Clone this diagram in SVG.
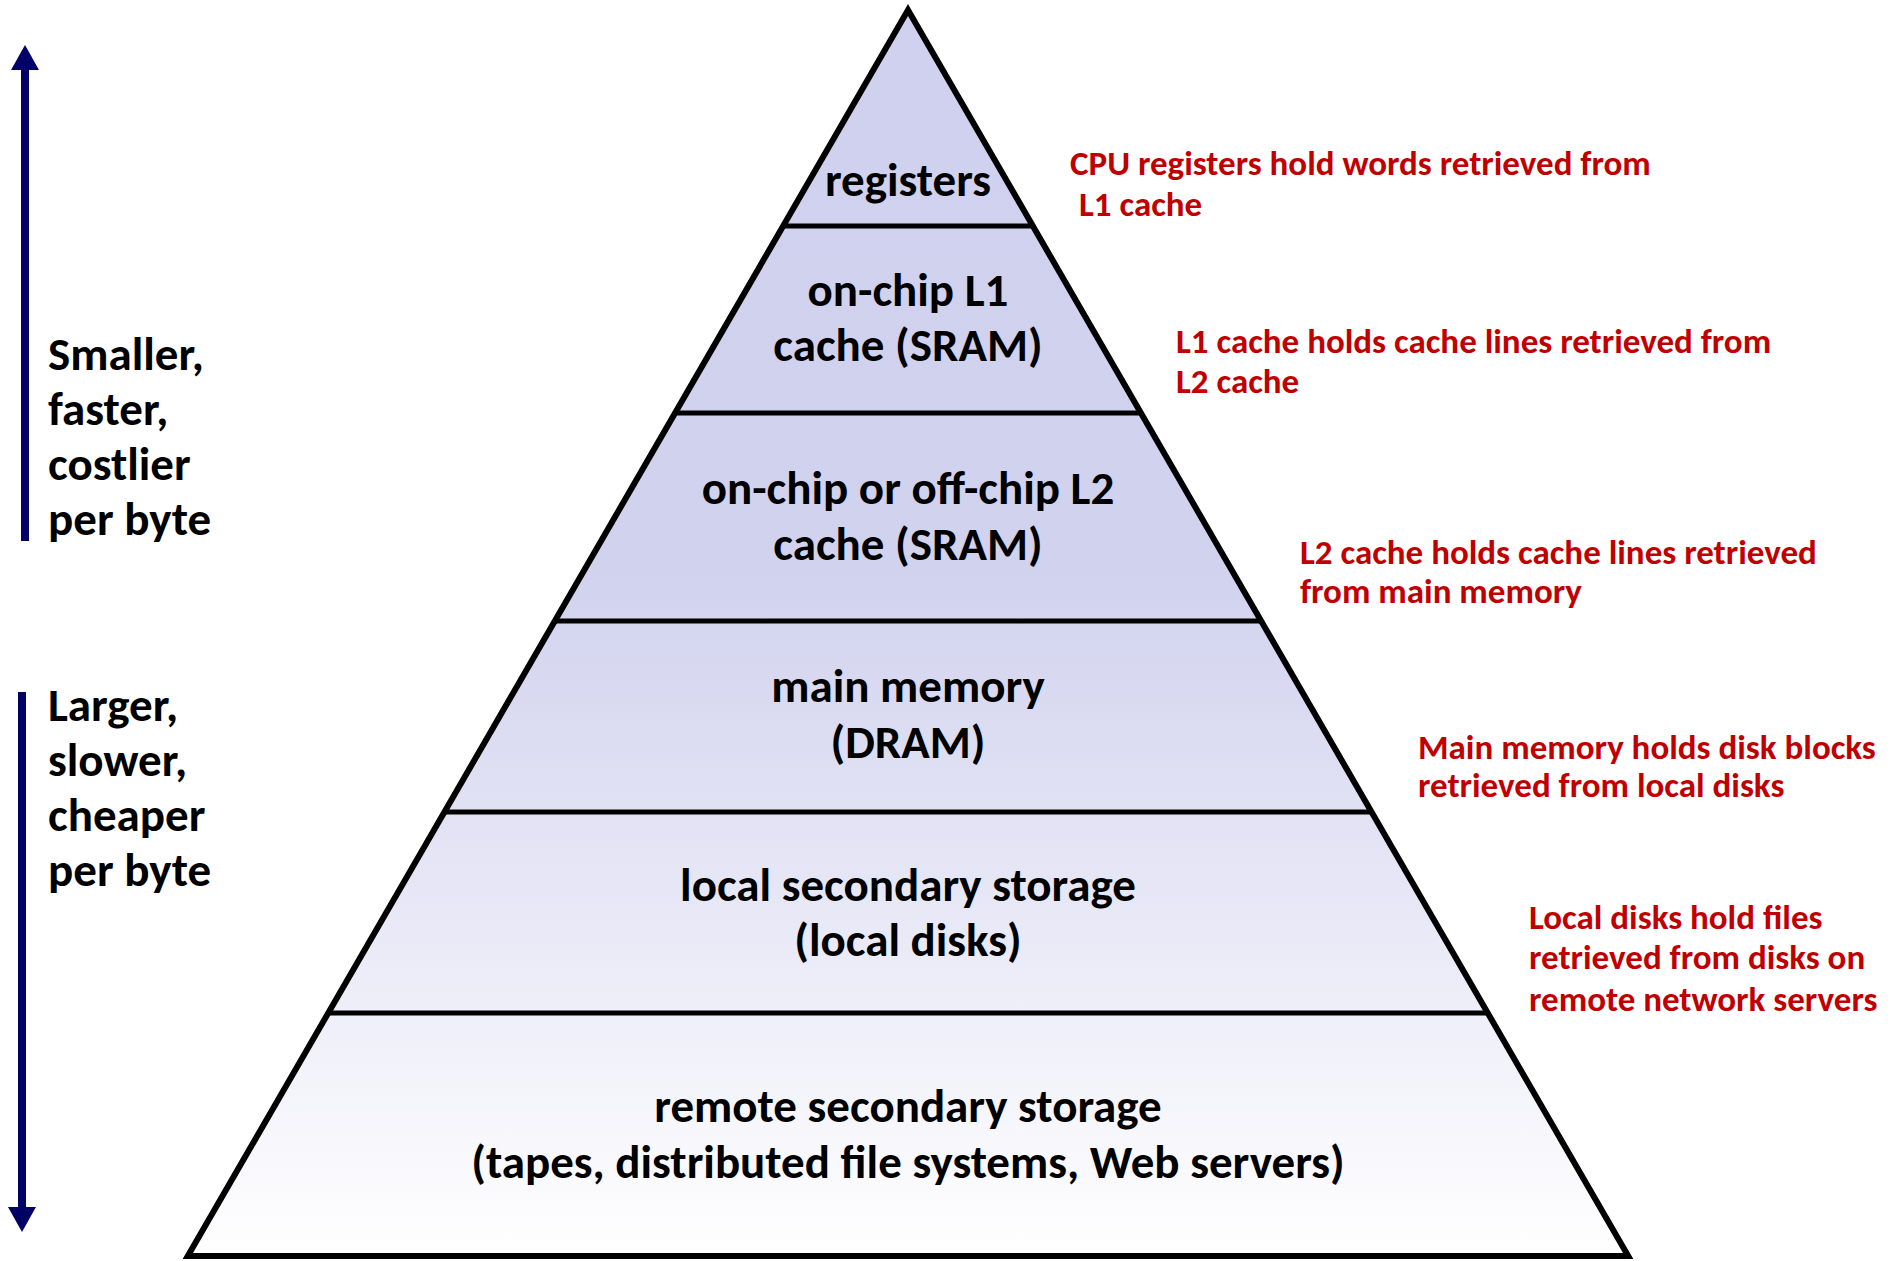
<svg xmlns="http://www.w3.org/2000/svg" width="1894" height="1261" viewBox="0 0 1894 1261">
<style>
.lvl{font-family:Carlito,Lato,"Liberation Sans",sans-serif;font-weight:bold;font-size:47px;fill:#000;text-anchor:middle}
.side{font-family:Carlito,Lato,"Liberation Sans",sans-serif;font-weight:bold;font-size:47px;fill:#000}
.note{font-family:Carlito,Lato,"Liberation Sans",sans-serif;font-weight:bold;font-size:35px;fill:#C00000}
.band{fill:url(#pg);stroke:none}
.sep{stroke:#000;stroke-width:5}
.arrow{stroke:#000066;stroke-width:8}
</style>
<defs>
<linearGradient id="pg" gradientUnits="userSpaceOnUse" x1="0" y1="10" x2="0" y2="1259">
<stop offset="0" stop-color="#D0D1EE"/>
<stop offset="0.45" stop-color="#D1D2EE"/>
<stop offset="1" stop-color="#FFFFFF"/>
</linearGradient>
</defs>
<rect width="1894" height="1261" fill="#fff"/>
<g id="registers">
<polygon class="band" points="908,10 1032.8,226 783.2,226"/>
<text class="lvl" x="908" y="196">registers</text>
</g>
<g id="l1">
<polygon class="band" points="783.2,226 1032.8,226 1140.9,413 675.1,413"/>
<text class="lvl" x="908" y="306">on-chip L1</text>
<text class="lvl" x="908" y="361">cache (SRAM)</text>
</g>
<g id="l2">
<polygon class="band" points="675.1,413 1140.9,413 1261.2,621 554.8,621"/>
<text class="lvl" x="908" y="504">on-chip or off-chip L2</text>
<text class="lvl" x="908" y="560">cache (SRAM)</text>
</g>
<g id="main-memory">
<polygon class="band" points="554.8,621 1261.2,621 1371.6,812 444.4,812"/>
<text class="lvl" x="908" y="702">main memory</text>
<text class="lvl" x="908" y="758">(DRAM)</text>
</g>
<g id="local-storage">
<polygon class="band" points="444.4,812 1371.6,812 1487.7,1013 328.3,1013"/>
<text class="lvl" x="908" y="901">local secondary storage</text>
<text class="lvl" x="908" y="956">(local disks)</text>
</g>
<g id="remote-storage">
<polygon class="band" points="328.3,1013 1487.7,1013 1628.2,1256 187.8,1256"/>
<text class="lvl" x="908" y="1122">remote secondary storage</text>
<text class="lvl" x="908" y="1178">(tapes, distributed file systems, Web servers)</text>
</g>
<g id="pyramid-lines">
<line class="sep" x1="783.2" y1="226" x2="1032.8" y2="226"/>
<line class="sep" x1="675.1" y1="413" x2="1140.9" y2="413"/>
<line class="sep" x1="554.8" y1="621" x2="1261.2" y2="621"/>
<line class="sep" x1="444.4" y1="812" x2="1371.6" y2="812"/>
<line class="sep" x1="328.3" y1="1013" x2="1487.7" y2="1013"/>
<polygon points="908,10 1628.2,1256 187.8,1256" fill="none" stroke="#000" stroke-width="6" stroke-linejoin="miter"/>
</g>
<g id="connectors">
<line class="arrow" x1="25" y1="541" x2="25" y2="66"/>
<polygon points="25,45 11,70 39,70" fill="#000066"/>
<line class="arrow" x1="22" y1="692" x2="22" y2="1210"/>
<polygon points="22,1232 8,1207 36,1207" fill="#000066"/>
</g>
<g id="label-smaller">
<text class="side" x="48" y="370">Smaller,</text>
<text class="side" x="48" y="425">faster,</text>
<text class="side" x="48" y="480">costlier</text>
<text class="side" x="48" y="535">per byte</text>
</g>
<g id="label-larger">
<text class="side" x="48" y="721">Larger,</text>
<text class="side" x="48" y="776">slower,</text>
<text class="side" x="48" y="831">cheaper</text>
<text class="side" x="48" y="886">per byte</text>
</g>
<g id="note-registers">
<text class="note" x="1070" y="175">CPU registers hold words retrieved from</text>
<text class="note" x="1079" y="216">L1 cache</text>
</g>
<g id="note-l1">
<text class="note" x="1176" y="353">L1 cache holds cache lines retrieved from</text>
<text class="note" x="1176" y="393">L2 cache</text>
</g>
<g id="note-l2">
<text class="note" x="1300" y="564">L2 cache holds cache lines retrieved</text>
<text class="note" x="1300" y="603">from main memory</text>
</g>
<g id="note-main">
<text class="note" x="1418" y="759">Main memory holds disk blocks</text>
<text class="note" x="1418" y="797">retrieved from local disks</text>
</g>
<g id="note-local">
<text class="note" x="1529" y="929">Local disks hold files</text>
<text class="note" x="1529" y="969">retrieved from disks on</text>
<text class="note" x="1529" y="1011">remote network servers</text>
</g>
</svg>
